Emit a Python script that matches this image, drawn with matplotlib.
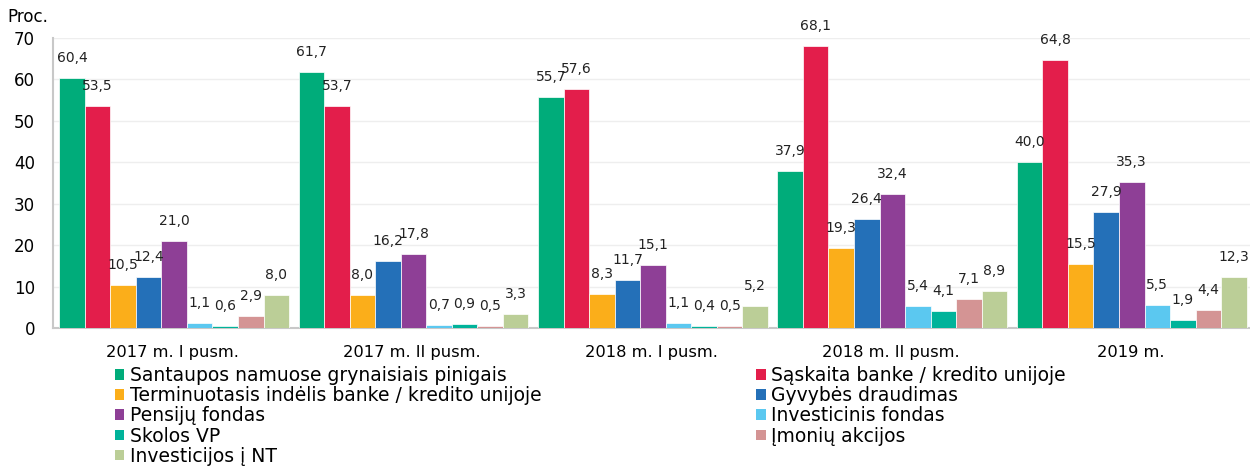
import matplotlib
matplotlib.use("Agg")
import matplotlib.pyplot as plt
from matplotlib.patches import Patch
import numpy as np

plt.rcParams['font.family'] = ['DejaVu Sans']

categories = ["2017 m. I pusm.", "2017 m. II pusm.", "2018 m. I pusm.", "2018 m. II pusm.", "2019 m."]
series_names = [
    "Santaupos namuose grynaisiais pinigais",
    "Sąskaita banke / kredito unijoje",
    "Terminuotasis indėlis banke / kredito unijoje",
    "Gyvybės draudimas",
    "Pensijų fondas",
    "Investicinis fondas",
    "Skolos VP",
    "Įmonių akcijos",
    "Investicijos į NT",
]
santaupos = [60.4, 61.7, 55.7, 37.9, 40.0]
saskaita = [53.5, 53.7, 57.6, 68.1, 64.8]
terminuotasis = [10.5, 8.0, 8.3, 19.3, 15.5]
gyvybes = [12.4, 16.2, 11.7, 26.4, 27.9]
pensiju = [21.0, 17.8, 15.1, 32.4, 35.3]
investicinis = [1.1, 0.7, 1.1, 5.4, 5.5]
skolos = [0.6, 0.9, 0.4, 4.1, 1.9]
imoniu = [2.9, 0.5, 0.5, 7.1, 4.4]
nt = [8.0, 3.3, 5.2, 8.9, 12.3]
series = [santaupos, saskaita, terminuotasis, gyvybes, pensiju, investicinis, skolos, imoniu, nt]
colors = ["#00AC7A", "#E31E4B", "#FBAE1A", "#2470B8", "#8E3F96",
          "#5BC8F0", "#00B39A", "#D49494", "#BBCE97"]
yticks = [0, 10, 20, 30, 40, 50, 60, 70]

fig = plt.figure(figsize=(12.5, 4.67), dpi=100)
ax = fig.add_axes([0.0424, 0.2976, 0.9576, 0.621])

x = np.arange(len(categories))
w = 0.1067
n = len(series)
for i, (vals, c) in enumerate(zip(series, colors)):
    pos = x + (i - (n - 1) / 2) * w + 0.006
    ax.bar(pos, vals, width=w, color=c, edgecolor="white", linewidth=0.5, zorder=3)
    for p, v in zip(pos, vals):
        ax.annotate(f"{v:.1f}".replace(".", ","), (p, v), xytext=(0, 13),
                    textcoords="offset pixels", ha="center", va="bottom",
                    fontsize=10, color="#222222", zorder=4)

ax.set_xlim(-0.5, 4.5)
ax.set_ylim(0, 70)
ax.set_yticks(yticks)
ax.set_xticks(x)
ax.set_xticklabels(categories, fontsize=11.7)
ax.tick_params(axis="y", labelsize=12, length=0, pad=13)
ax.tick_params(axis="x", length=0, pad=12)
ax.grid(axis="y", color="#EEEEEE", linewidth=1, zorder=0)
for s in ["top", "right"]:
    ax.spines[s].set_visible(False)
for s in ["left", "bottom"]:
    ax.spines[s].set_color("#C8C8C8")
    ax.spines[s].set_linewidth(1.5)

fig.text(0.006, 0.963, "Proc.", fontsize=12, ha="left", va="center")

handles = [Patch(facecolor=c, edgecolor="none") for c in colors]
left_idx = [0, 2, 4, 6, 8]
right_idx = [1, 3, 5, 7]
common = dict(frameon=False, fontsize=13.5, handlelength=0.5, handleheight=0.5,
              handletextpad=0.3, labelspacing=0.06, borderpad=0, borderaxespad=0,
              loc="upper left")
leg1 = fig.legend([handles[i] for i in left_idx], [series_names[i] for i in left_idx],
                  bbox_to_anchor=(0.092, 0.216), **common)
leg2 = fig.legend([handles[i] for i in right_idx], [series_names[i] for i in right_idx],
                  bbox_to_anchor=(0.605, 0.216), **common)

fig.savefig("out.png", dpi=100)
